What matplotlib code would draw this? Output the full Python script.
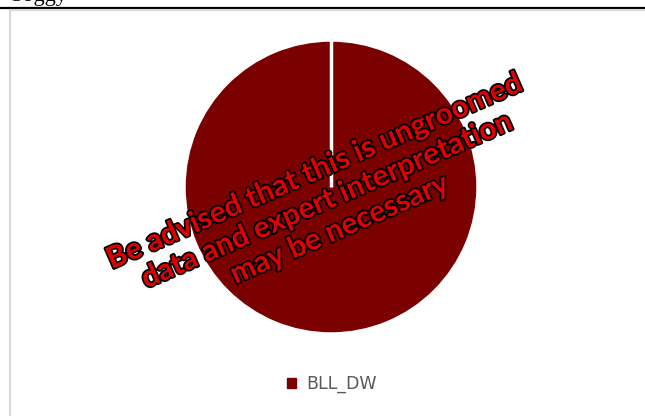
import matplotlib.pyplot as plt
import matplotlib.patheffects as pe
from matplotlib.lines import Line2D
from matplotlib.patches import Patch

labels = ['BLL_DW']
values = [100]
colors = ['#7B0000']
note = "Be advised that this is ungroomed\ndata and expert interpretation\nmay be necessary"

W, H = 645, 416
fig = plt.figure(figsize=(W / 100, H / 100), dpi=100)

# page furniture: cut-off header text, rule and chart frame
fig.text(10 / W, 1 + 4 / H, "Soggy", family='Liberation Serif', fontsize=16,
         va='center', ha='left', color='black')
fig.add_artist(Line2D([0, 1], [1 - 7.5 / H, 1 - 7.5 / H], color='black', lw=1.6))
fig.add_artist(Line2D([10 / W, 1], [1 - 10 / H, 1 - 10 / H], color='#d9d9d9', lw=1.5))
fig.add_artist(Line2D([10 / W, 10 / W], [0, 1 - 10 / H], color='#d9d9d9', lw=1.5))

cx, cy, r = 331, 187, 146
ax = fig.add_axes([(cx - r) / W, (H - cy - r) / H, 2 * r / W, 2 * r / H])
ax.pie(values, colors=colors, startangle=90, counterclock=False)
# slice border (single slice: only the seam from centre to top shows)
ax.plot([0, 0], [0, 1.02], color='white', lw=2.5, solid_capstyle='butt')
ax.set_xlim(-1.005, 1.005)
ax.set_ylim(-1.005, 1.005)
ax.set_aspect('equal')
ax.axis('off')

fig.legend(handles=[Patch(color=c, label=l) for c, l in zip(colors, labels)],
           loc='center', bbox_to_anchor=(332 / W, 1 - 384 / H), frameon=False,
           fontsize=12.5, handlelength=0.5, handleheight=0.5, handletextpad=0.6,
           labelcolor='#595959')

fig.text(327 / W, 1 - 200 / H, note, family='Lato', weight='bold', fontsize=21.5,
         color='#e00000', rotation=23.5, rotation_mode='anchor', ha='center',
         va='center', multialignment='center', linespacing=1.15,
         path_effects=[pe.withStroke(linewidth=2.5, foreground='black')])

fig.savefig('out.png', dpi=100)
